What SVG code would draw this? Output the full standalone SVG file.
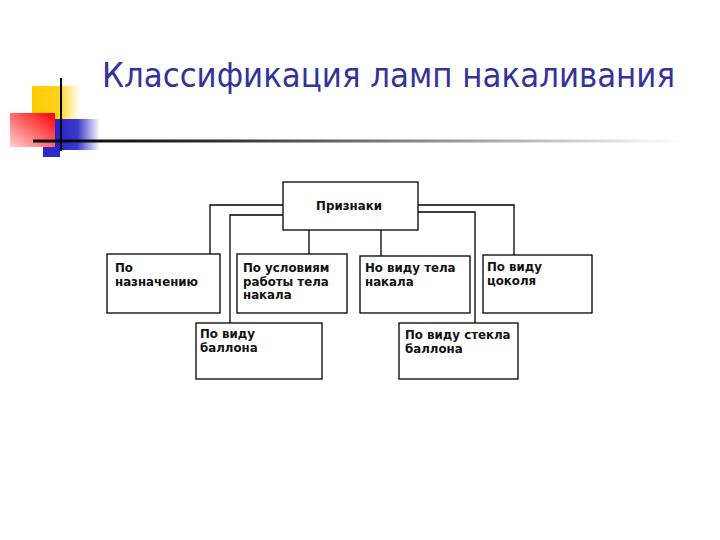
<svg xmlns="http://www.w3.org/2000/svg" width="720" height="540" viewBox="0 0 720 540">
  <defs>
    <linearGradient id="gY" x1="0" y1="0" x2="1" y2="0">
      <stop offset="0" stop-color="#ffcc00"/>
      <stop offset="0.55" stop-color="#ffd21a"/>
      <stop offset="1" stop-color="#ffffff"/>
    </linearGradient>
    <linearGradient id="gR" x1="1" y1="0" x2="0" y2="1">
      <stop offset="0" stop-color="#ff0000"/>
      <stop offset="1" stop-color="#ffd0d0"/>
    </linearGradient>
    <linearGradient id="gB" x1="0" y1="0" x2="1" y2="0">
      <stop offset="0" stop-color="#2222cc"/>
      <stop offset="0.5" stop-color="#3a3acc"/>
      <stop offset="1" stop-color="#ffffff"/>
    </linearGradient>
    <linearGradient id="gL" x1="0" y1="0" x2="1" y2="0">
      <stop offset="0" stop-color="#000000"/>
      <stop offset="0.3" stop-color="#333333"/>
      <stop offset="1" stop-color="#ffffff"/>
    </linearGradient>
    <style>
      .box { fill: #ffffff; stroke: #000000; stroke-width: 1.3; }
      .lbl { font-family: "DejaVu Sans", "Liberation Sans", sans-serif; font-weight: bold; font-size: 11.8px; fill: #111111; }
      .con { fill: none; stroke: #000000; stroke-width: 1.3; }
    </style>
  </defs>
  <rect width="720" height="540" fill="#ffffff"/>

  <g id="decor">
    <rect x="32" y="86" width="48" height="33" fill="url(#gY)"/>
    <rect x="55" y="119" width="45" height="31" fill="url(#gB)"/>
    <rect x="43" y="146" width="17" height="11" fill="#2a2acc"/>
    <rect x="10" y="113" width="45" height="34" fill="url(#gR)"/>
    <line x1="61" y1="78" x2="61" y2="151" stroke="#000000" stroke-width="2"/>
    <rect x="33" y="139.5" width="650" height="3" fill="url(#gL)"/>
  </g>

  <text id="title" x="102" y="87" font-family="DejaVu Sans Condensed, DejaVu Sans, Liberation Sans, sans-serif" font-size="34" fill="#333399" textLength="573" lengthAdjust="spacingAndGlyphs">Классификация ламп накаливания</text>

  <g id="connectors">
    <polyline class="con" points="283,205 210,205 210,254"/>
    <polyline class="con" points="283,215 230,215 230,323"/>
    <line class="con" x1="309" y1="230" x2="309" y2="254"/>
    <line class="con" x1="381" y1="230" x2="381" y2="256"/>
    <polyline class="con" points="418,205 514,205 514,255"/>
    <polyline class="con" points="418,212 475,212 475,323"/>
  </g>

  <g id="n-priznaki">
    <rect class="box" x="283" y="182" width="135" height="48"/>
    <text class="lbl" x="349" y="210" text-anchor="middle">Признаки</text>
  </g>

  <g id="n-naznachenie">
    <rect class="box" x="107" y="254" width="113" height="59"/>
    <text class="lbl" x="115" y="272">По</text>
    <text class="lbl" x="115" y="285.5">назначению</text>
  </g>

  <g id="n-usloviya">
    <rect class="box" x="237" y="254" width="110" height="59"/>
    <text class="lbl" x="243" y="272">По условиям</text>
    <text class="lbl" x="243" y="285.5">работы тела</text>
    <text class="lbl" x="243" y="299">накала</text>
  </g>

  <g id="n-telo">
    <rect class="box" x="360" y="256" width="110" height="57"/>
    <text class="lbl" x="365" y="272">Но виду тела</text>
    <text class="lbl" x="365" y="285.5">накала</text>
  </g>

  <g id="n-tsokol">
    <rect class="box" x="483" y="255" width="109" height="58"/>
    <text class="lbl" x="487" y="271">По виду</text>
    <text class="lbl" x="487" y="284.5">цоколя</text>
  </g>

  <g id="n-ballon">
    <rect class="box" x="196" y="323" width="126" height="56"/>
    <text class="lbl" x="200" y="338">По виду</text>
    <text class="lbl" x="200" y="351.5">баллона</text>
  </g>

  <g id="n-steklo">
    <rect class="box" x="399" y="323" width="119" height="56"/>
    <text class="lbl" x="405" y="339">По виду стекла</text>
    <text class="lbl" x="405" y="352.5">баллона</text>
  </g>
</svg>
